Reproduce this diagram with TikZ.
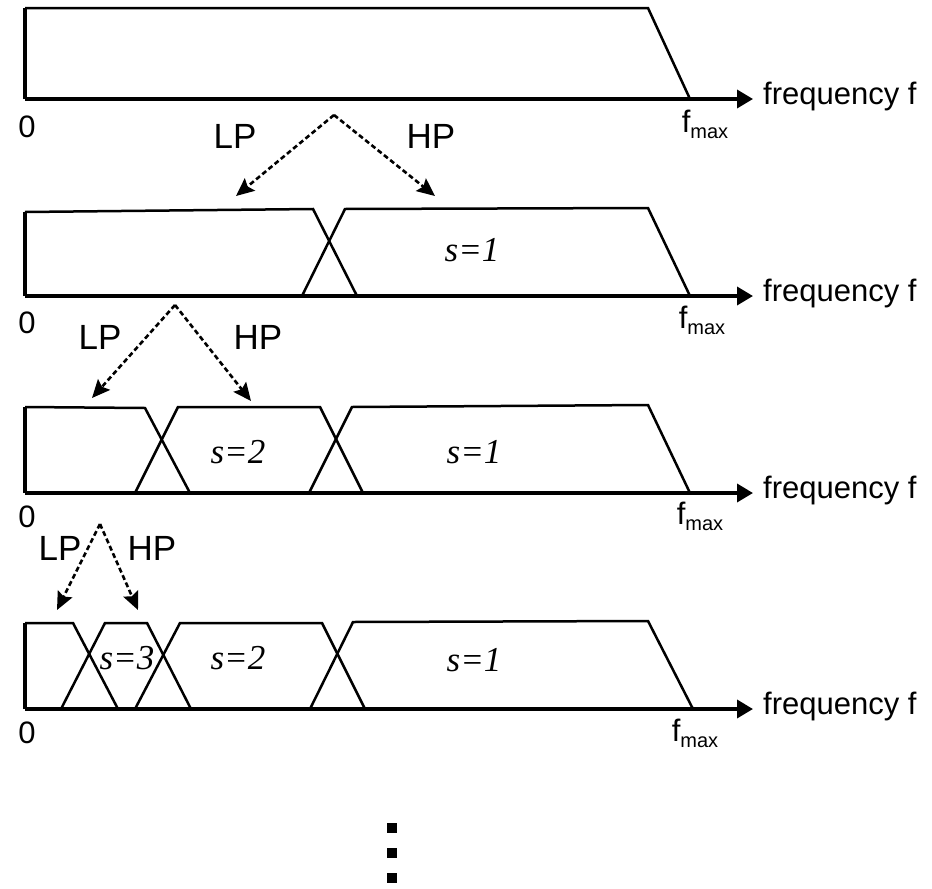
\documentclass[tikz,border=0pt]{standalone}
\usepackage{fontspec}
\setmainfont{Liberation Sans}
\newfontfamily\bandfont{Liberation Serif}
\usetikzlibrary{arrows.meta}
\newcommand{\fmax}{f\raisebox{-0.38ex}{\fontsize{20}{20}\selectfont max}}

\begin{document}
\begin{tikzpicture}[x=1pt,y=-1pt,>=Stealth,
    axis/.style={line width=3.5pt,-{Triangle[length=16pt,width=18pt]}},
    edge/.style={line width=3.5pt},
    band/.style={line width=2.5pt,line join=miter},
    split/.style={line width=2.6pt,dash pattern=on 5pt off 3pt,
                  -{Stealth[length=18pt,width=16pt,inset=3pt]}},
    filt/.style={font=\fontsize{35}{35}\selectfont,inner sep=0pt},
    axlbl/.style={font=\fontsize{31}{31}\selectfont,inner sep=0pt},
    bandlbl/.style={font=\fontsize{35}{35}\selectfont\bandfont\itshape,inner sep=0pt}]
  \useasboundingbox (0,0) rectangle (932,889);

  % frequency axes, one per level
  \foreach \i/\y/\fx/\fy/\zy in {1/99/705/124/127, 2/296/702/320/323,
                                 3/493/700/516/517, 4/709/695/733/733}{
    \draw[axis] (25,\y) -- (753,\y);
    \node[axlbl,anchor=west] (freq\i) at (763,\y-3) {frequency f};
    \node[axlbl] (fmax\i) at (\fx,\fy) {\fmax};
    \node[axlbl] (zero\i) at (27,\zy) {0};
  }

  % level 0: full band
  \draw[edge] (25,99) -- (25,8);
  \draw[band] (25,8) -- (648,8) -- (690,99);

  % level 1
  \draw[edge] (25,296) -- (25,212);
  \draw[band] (25,212) -- (313,209) -- (357,296);
  \draw[band] (302,296) -- (345,209) -- (648,208) -- (690,296);
  \node[bandlbl] (s1a) at (472,250) {s=1};

  % level 2
  \draw[edge] (25,493) -- (25,407);
  \draw[band] (25,407) -- (145,408) -- (190,493);
  \draw[band] (135,493) -- (178,407) -- (320,407) -- (363,493);
  \draw[band] (309,493) -- (352,407) -- (648,405) -- (690,493);
  \node[bandlbl] (s2b) at (238,452) {s=2};
  \node[bandlbl] (s1b) at (474,452) {s=1};

  % level 3
  \draw[edge] (25,709) -- (25,623);
  \draw[band] (25,623) -- (73,623) -- (118,709);
  \draw[band] (61,709) -- (105,623) -- (147,623) -- (191,709);
  \draw[band] (135,709) -- (180,623) -- (322,623) -- (365,709);
  \draw[band] (310,709) -- (353,622) -- (648,621) -- (693,709);
  \node[bandlbl] (s3c) at (127,658) {s=3};
  \node[bandlbl] (s2c) at (238,658) {s=2};
  \node[bandlbl] (s1c) at (474,660) {s=1};

  % LP / HP splits
  \coordinate (top1) at (334,115);
  \coordinate (lo1) at (236,196);
  \coordinate (hi1) at (435,196);
  \coordinate (top2) at (175,305);
  \coordinate (lo2) at (92,398);
  \coordinate (hi2) at (251,401);
  \coordinate (top3) at (100,524);
  \coordinate (lo3) at (57,610);
  \coordinate (hi3) at (138,610);
  \foreach \k in {1,2,3}{
    \draw[split] (top\k) -- (lo\k);
    \draw[split] (top\k) -- (hi\k);
  }
  \node[filt] (lp1) at (235,136) {LP};
  \node[filt] (hp1) at (431,136) {HP};
  \node[filt] (lp2) at (100,337) {LP};
  \node[filt] (hp2) at (258,337) {HP};
  \node[filt] (lp3) at (60,548) {LP};
  \node[filt] (hp3) at (152,548) {HP};

  % and so on
  \foreach \d in {828,853,878}
    \fill (387,\d-5) rectangle (397,\d+5);
\end{tikzpicture}
\end{document}
